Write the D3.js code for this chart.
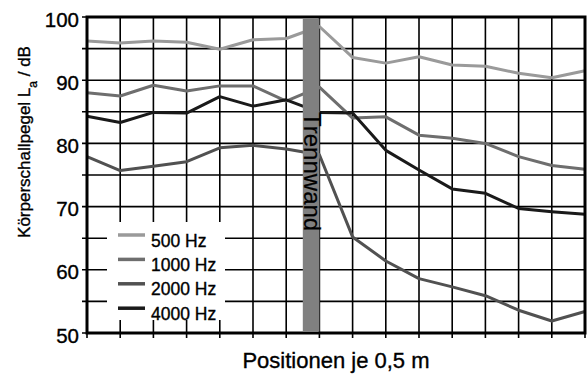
<!DOCTYPE html>
<html>
<head>
<meta charset="utf-8">
<script src="https://cdn.jsdelivr.net/npm/d3@7"></script>
<style>
  body { margin: 0; background: #fff; }
  text { font-family: "Liberation Sans", Arial, sans-serif; fill: #000; stroke: #000; stroke-width: 0.35px; }
</style>
</head>
<body>
<div id="chart"></div>
<script>
// positions 0..15 (je 0,5 m), wall between 6 and 7
var positions = d3.range(16);
var hz500  = [96.2, 95.9, 96.2, 96.0, 94.9, 96.4, 96.6, 98.5, 93.6, 92.7, 93.7, 92.4, 92.2, 91.1, 90.4, 91.5];
var hz1000 = [88.0, 87.5, 89.2, 88.3, 89.1, 89.1, 86.7, 88.9, 84.0, 84.2, 81.3, 80.8, 80.0, 77.9, 76.5, 75.9];
var hz2000 = [77.9, 75.7, 76.4, 77.1, 79.3, 79.7, 79.1, 78.2, 65.2, 61.4, 58.6, 57.3, 55.9, 53.6, 51.9, 53.4];
var hz4000 = [84.3, 83.3, 84.9, 84.8, 87.4, 85.9, 86.9, 84.9, 84.8, 78.9, 75.8, 72.8, 72.1, 69.7, 69.2, 68.8];
var seriesNames = ["500 Hz", "1000 Hz", "2000 Hz", "4000 Hz"];
var yTicks = [50, 60, 70, 80, 90, 100];
var wallFrom = 6.5, wallTo = 7;

var colors = ["#9a9a9a", "#6e6e6e", "#515151", "#1a1a1a"];
var series = [hz500, hz1000, hz2000, hz4000];

var W = 587, H = 374;
var margin = { top: 17, right: 2, bottom: 41, left: 87 };

var svg = d3.select("#chart").append("svg")
  .attr("width", W)
  .attr("height", H);

var x = d3.scaleLinear().domain([0, 15]).range([margin.left, W - margin.right]);
var y = d3.scaleLinear().domain([50, 100]).range([H - margin.bottom, margin.top]);

// grid
var grid = svg.append("g").attr("stroke", "#000").attr("stroke-width", 1.6);
grid.selectAll("line.h")
  .data(d3.range(50, 101, 5))
  .enter().append("line")
  .attr("x1", x(0) - 5).attr("x2", x(15))
  .attr("y1", d => y(d)).attr("y2", d => y(d));
grid.selectAll("line.v")
  .data(positions)
  .enter().append("line")
  .attr("x1", d => x(d)).attr("x2", d => x(d))
  .attr("y1", y(100)).attr("y2", y(50) + 5);

// y tick labels
svg.append("g").selectAll("text")
  .data(yTicks)
  .enter().append("text")
  .attr("x", x(0) - 8)
  .attr("y", d => y(d) + 9.5)
  .attr("text-anchor", "end")
  .style("font-size", "20.5px")
  .text(d => d);

// series lines
var line = d3.line()
  .x((d, i) => x(positions[i]))
  .y(d => y(d));
svg.append("g").selectAll("path")
  .data(series)
  .enter().append("path")
  .attr("d", line)
  .attr("fill", "none")
  .attr("stroke", (d, i) => colors[i])
  .attr("stroke-width", 3)
  .attr("stroke-linejoin", "round");

// frame
svg.append("rect")
  .attr("x", x(0)).attr("y", y(100))
  .attr("width", x(15) - x(0)).attr("height", y(50) - y(100))
  .attr("fill", "none").attr("stroke", "#000").attr("stroke-width", 3);

// Trennwand
svg.append("rect")
  .attr("x", x(wallFrom)).attr("y", y(100) + 1.5)
  .attr("width", x(wallTo) - x(wallFrom))
  .attr("height", y(50) - y(100) - 3)
  .attr("fill", "#808080");
svg.append("text")
  .attr("transform", "translate(" + (x(wallFrom) + 1) + "," + 112 + ") rotate(90)")
  .style("font-size", "24px")
  .style("stroke-width", "0.2px")
  .text("Trennwand");

// legend
var legend = svg.append("g");
legend.append("rect")
  .attr("x", 107).attr("y", 222)
  .attr("width", 118).attr("height", 98)
  .attr("fill", "#fff");
var item = legend.selectAll("g")
  .data(seriesNames)
  .enter().append("g")
  .attr("transform", (d, i) => "translate(118," + (235 + i * 24.4) + ")");
item.append("line")
  .attr("x1", 0).attr("x2", 27)
  .attr("stroke", (d, i) => colors[i])
  .attr("stroke-width", 3.5);
item.append("text")
  .attr("x", 33).attr("y", 11.5)
  .style("font-size", "17.5px")
  .text(d => d);

// axis titles
svg.append("text")
  .attr("x", (x(0) + x(15)) / 2)
  .attr("y", 368)
  .attr("text-anchor", "middle")
  .style("font-size", "22px")
  .text("Positionen je 0,5 m");

var yl = svg.append("text")
  .attr("transform", "translate(30," + 142 + ") rotate(-90)")
  .attr("text-anchor", "middle")
  .style("font-size", "17px");
yl.append("tspan").text("Körperschallpegel L");
yl.append("tspan").attr("baseline-shift", "sub").style("font-size", "12px").text("a");
yl.append("tspan").text(" / dB");
</script>
</body>
</html>
